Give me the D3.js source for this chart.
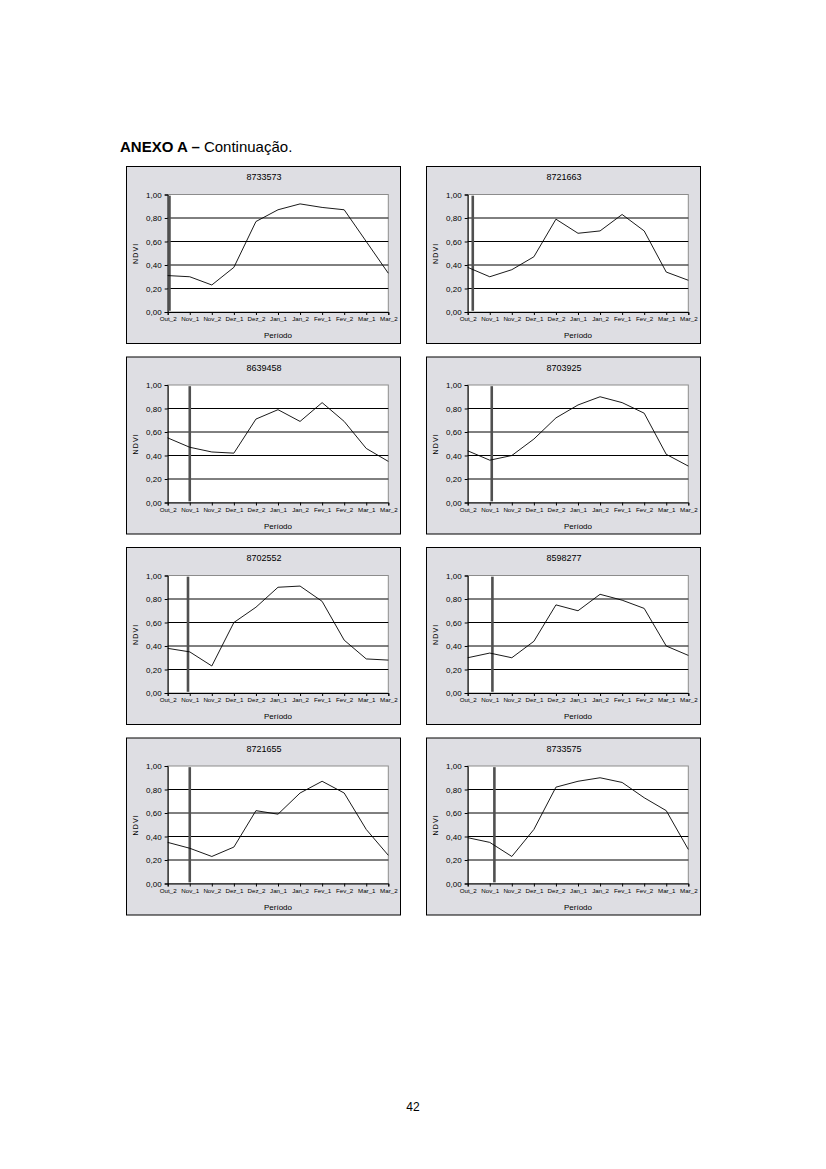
<!DOCTYPE html>
<html lang="pt">
<head>
<meta charset="UTF-8">
<title>ANEXO A - Continuação</title>
<script src="https://d3js.org/d3.v7.min.js"></script>
<style>
    body { margin: 0; background: #fff; }
    text { font-family: "Liberation Sans", Arial, sans-serif; }
</style>
</head>
<body>
<svg class="page"></svg>
<script>
    // Data - periods (x axis) and NDVI per station
    const periods = ["Out_2", "Nov_1", "Nov_2", "Dez_1", "Dez_2", "Jan_1", "Jan_2", "Fev_1", "Fev_2", "Mar_1", "Mar_2"];
    const stations = ["8733573", "8721663", "8639458", "8703925", "8702552", "8598277", "8721655", "8733575"];

    const ndvi_8733573 = [0.31, 0.30, 0.23, 0.38, 0.77, 0.87, 0.92, 0.89, 0.87, 0.60, 0.33];
    const ndvi_8721663 = [0.38, 0.30, 0.36, 0.47, 0.79, 0.67, 0.69, 0.83, 0.69, 0.34, 0.27];
    const ndvi_8639458 = [0.55, 0.47, 0.43, 0.42, 0.71, 0.79, 0.69, 0.85, 0.69, 0.46, 0.35];
    const ndvi_8703925 = [0.44, 0.36, 0.40, 0.54, 0.72, 0.83, 0.90, 0.85, 0.76, 0.41, 0.31];
    const ndvi_8702552 = [0.38, 0.35, 0.23, 0.60, 0.73, 0.90, 0.91, 0.78, 0.45, 0.29, 0.28];
    const ndvi_8598277 = [0.30, 0.34, 0.30, 0.44, 0.75, 0.70, 0.84, 0.79, 0.72, 0.40, 0.32];
    const ndvi_8721655 = [0.35, 0.30, 0.23, 0.31, 0.62, 0.59, 0.77, 0.87, 0.77, 0.46, 0.24];
    const ndvi_8733575 = [0.39, 0.35, 0.23, 0.46, 0.82, 0.87, 0.90, 0.86, 0.73, 0.62, 0.29];

    const series = [ndvi_8733573, ndvi_8721663, ndvi_8639458, ndvi_8703925,
                    ndvi_8702552, ndvi_8598277, ndvi_8721655, ndvi_8733575];

    // position of the vertical marker, in periods from Out_2
    const markerPos = [0.08, 0.23, 1.0, 1.09, 0.92, 1.12, 1.0, 1.21];

    const yTicks = [0, 0.2, 0.4, 0.6, 0.8, 1.0];

    // Page layout
    const pageW = 826, pageH = 1169;
    const colX = [126, 426];
    const rowY = [166, 356.5, 547, 737.5];
    const frameW = 274, frameH = 177;
    const plot = { left: 41.7, top: 28.5, width: 220.6, height: 117.5 };

    const svg = d3.select(".page")
        .attr("width", pageW)
        .attr("height", pageH);

    // Heading
    const head = svg.append("text")
        .attr("x", 120)
        .attr("y", 152)
        .attr("font-size", "15px");
    head.append("tspan").attr("font-weight", "bold").text("ANEXO A – ");
    head.append("tspan").text("Continuação.");

    // Page number
    svg.append("text")
        .attr("x", 413)
        .attr("y", 1111)
        .attr("text-anchor", "middle")
        .attr("font-size", "12px")
        .text("42");

    const x = d3.scalePoint().domain(periods).range([0, plot.width]).padding(0);
    const y = d3.scaleLinear().domain([0, 1]).range([plot.height, 0]);
    const fmt = d => d3.format(".2f")(d).replace(".", ",");

    stations.forEach((id, i) => {
        const fx = colX[i % 2];
        const fy = rowY[Math.floor(i / 2)];
        const values = series[i];

        const g = svg.append("g").attr("transform", `translate(${fx},${fy})`);

        // chart frame
        g.append("rect")
            .attr("x", 0.5).attr("y", 0.5)
            .attr("width", frameW).attr("height", frameH)
            .attr("fill", "#dedee3")
            .attr("stroke", "#000")
            .attr("stroke-width", 1);

        // title
        g.append("text")
            .attr("x", frameW / 2 + 1)
            .attr("y", 14)
            .attr("text-anchor", "middle")
            .attr("font-size", "9px")
            .text(id);

        const p = g.append("g").attr("transform", `translate(${plot.left},${plot.top})`);

        // plot area
        p.append("rect")
            .attr("width", plot.width).attr("height", plot.height)
            .attr("fill", "#fff")
            .attr("stroke", "#8c8c8c")
            .attr("stroke-width", 1);

        // gridlines
        p.selectAll(".grid")
            .data(yTicks.filter(t => t > 0 && t < 1))
            .join("line")
            .attr("x1", 0).attr("x2", plot.width)
            .attr("y1", d => y(d)).attr("y2", d => y(d))
            .attr("stroke", "#000")
            .attr("stroke-width", 1);

        // y axis
        const yAxis = p.append("g")
            .call(d3.axisLeft(y).tickValues(yTicks).tickFormat(fmt).tickSize(3).tickPadding(3));
        yAxis.select(".domain").attr("stroke", "#000");
        yAxis.selectAll("text").attr("font-size", "8px").attr("fill", "#000")
            .attr("font-family", "'Liberation Sans', Arial, sans-serif");

        // x axis
        const xAxis = p.append("g")
            .attr("transform", `translate(0,${plot.height})`)
            .call(d3.axisBottom(x).tickSize(3).tickPadding(2));
        xAxis.select(".domain").attr("stroke", "#000");
        xAxis.selectAll("text").attr("font-size", "6.2px").attr("fill", "#000")
            .attr("font-family", "'Liberation Sans', Arial, sans-serif");

        // vertical marker
        const mx = x(periods[0]) + markerPos[i] * x.step();
        p.append("line")
            .attr("x1", mx).attr("x2", mx)
            .attr("y1", y(0.99)).attr("y2", y(0.01))
            .attr("stroke", "#505050")
            .attr("stroke-width", 2.6);

        // NDVI line
        p.append("path")
            .datum(values)
            .attr("fill", "none")
            .attr("stroke", "#000")
            .attr("stroke-width", 0.9)
            .attr("d", d3.line()
                .x((d, k) => x(periods[k]))
                .y(d => y(d)));

        // axis titles
        g.append("text")
            .attr("transform", `translate(12,${plot.top + plot.height / 2}) rotate(-90)`)
            .attr("text-anchor", "middle")
            .attr("font-size", "7px")
            .attr("letter-spacing", "1.2px")
            .text("NDVI");

        g.append("text")
            .attr("x", plot.left + plot.width / 2)
            .attr("y", 172)
            .attr("text-anchor", "middle")
            .attr("font-size", "8px")
            .text("Período");
    });
</script>
</body>
</html>
